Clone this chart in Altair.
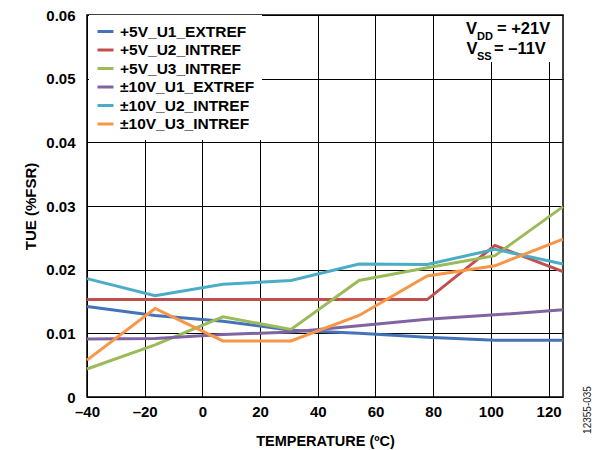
import altair as alt
import pandas as pd

# ---- data ----
temps = [-40, -16.4, 7.1, 30.7, 54.3, 77.9, 101.4, 125]
series_names = ["+5V_U1_EXTREF", "+5V_U2_INTREF", "+5V_U3_INTREF",
                "±10V_U1_EXTREF", "±10V_U2_INTREF", "±10V_U3_INTREF"]
u1_5v_ext = [0.0142, 0.0128, 0.0119, 0.0105, 0.0100, 0.0094, 0.0089, 0.0089]
u2_5v_int = [0.0153, 0.0153, 0.0153, 0.0153, 0.0153, 0.0153, 0.0238, 0.0197]
u3_5v_int = [0.0044, 0.0082, 0.0126, 0.0106, 0.0183, 0.0203, 0.0222, 0.0299]
u1_10v_ext = [0.0091, 0.0092, 0.0098, 0.0102, 0.0112, 0.0122, 0.0129, 0.0137]
u2_10v_int = [0.0186, 0.0159, 0.0177, 0.0183, 0.0209, 0.0208, 0.0232, 0.0209]
u3_10v_int = [0.0058, 0.0139, 0.0088, 0.0088, 0.0128, 0.0190, 0.0206, 0.0248]
x_ticks = [-40, -20, 0, 20, 40, 60, 80, 100, 120]
y_ticks = [0, 0.01, 0.02, 0.03, 0.04, 0.05, 0.06]
colors = ["#4573B9", "#C0504D", "#9BBB59", "#8064A2", "#4BACC6", "#F79646"]

series_values = [u1_5v_ext, u2_5v_int, u3_5v_int, u1_10v_ext, u2_10v_int, u3_10v_int]
rows = []
for name, vals in zip(series_names, series_values):
    for t, v in zip(temps, vals):
        rows.append({"series": name, "temp": t, "tue": v})
df = pd.DataFrame(rows)

FONT = "Liberation Sans"

x_enc = alt.X(
    "temp:Q",
    scale=alt.Scale(domain=[-40, 125], nice=False, zero=False),
    axis=alt.Axis(
        values=x_ticks, title="TEMPERATURE (ºC)",
        labelExpr="datum.value < 0 ? '–' + abs(datum.value) : '' + datum.value",
        labelFlush=False, labelPadding=7, ticks=False, domain=False,
        titleX=238, titleY=44, titleBaseline="middle", titleAlign="center",
        titleFontSize=14.5,
    ),
)
y_enc = alt.Y(
    "tue:Q",
    scale=alt.Scale(domain=[0, 0.06], nice=False, zero=True),
    axis=alt.Axis(
        values=y_ticks, title="TUE (%FSR)",
        labelExpr="datum.value == 0 ? '0' : format(datum.value, '.2f')",
        labelPadding=12, ticks=False, domain=False,
        titleX=-57, titleY=191, titleAngle=270, titleAlign="center",
        titleBaseline="middle",
    ),
)

lines = alt.Chart(df).mark_line(strokeWidth=3).encode(
    x=x_enc,
    y=y_enc,
    color=alt.Color(
        "series:N",
        scale=alt.Scale(domain=series_names, range=colors),
        legend=alt.Legend(
            title=None, orient="none", legendX=2, legendY=0,
            fillColor="white", padding=7, symbolType="stroke",
            symbolSize=256, symbolStrokeWidth=3, labelFont=FONT,
            labelFontWeight="bold", labelFontSize=15.5, labelColor="black",
            rowPadding=0.5, labelOffset=5, labelLimit=300,
        ),
    ),
)

one = pd.DataFrame({"k": [0]})
box = alt.Chart(one).mark_rect(color="white").encode(
    x=alt.value(352), x2=alt.value(475), y=alt.value(1), y2=alt.value(47)
)


def txt(s, x, y, size):
    return alt.Chart(one).mark_text(
        text=s, font=FONT, fontWeight="bold", fontSize=size, color="black",
        align="left", baseline="alphabetic",
    ).encode(x=alt.value(x), y=alt.value(y))


ann = [
    txt("V", 379, 18.5, 16.5), txt("DD", 390, 25, 11), txt("= +21V", 410, 18.5, 16.5),
    txt("V", 379.5, 38.5, 16.5), txt("SS", 390, 45, 11), txt("= –11V", 407, 38.5, 16.5),
]

code = alt.Chart(one).mark_text(
    text="12355-035", font=FONT, fontSize=10, color="#222222", angle=270,
    align="center", baseline="middle",
).encode(x=alt.value(501), y=alt.value(395))

chart = alt.layer(lines, box, *ann, code).properties(
    width=476, height=382,
    autosize=alt.AutoSizeParams(type="none"),
    padding={"left": 79, "top": 7, "right": 33, "bottom": 52},
    background="white",
).configure_view(
    stroke="black", strokeWidth=1.5
).configure_axis(
    grid=True, gridColor="black", gridOpacity=1, gridWidth=1,
    labelFont=FONT, labelFontWeight="bold", labelFontSize=15, labelColor="black",
    titleFont=FONT, titleFontWeight="bold", titleFontSize=15, titleColor="black",
)

chart.save("out.html", embed_options={"renderer": "svg", "actions": False})
